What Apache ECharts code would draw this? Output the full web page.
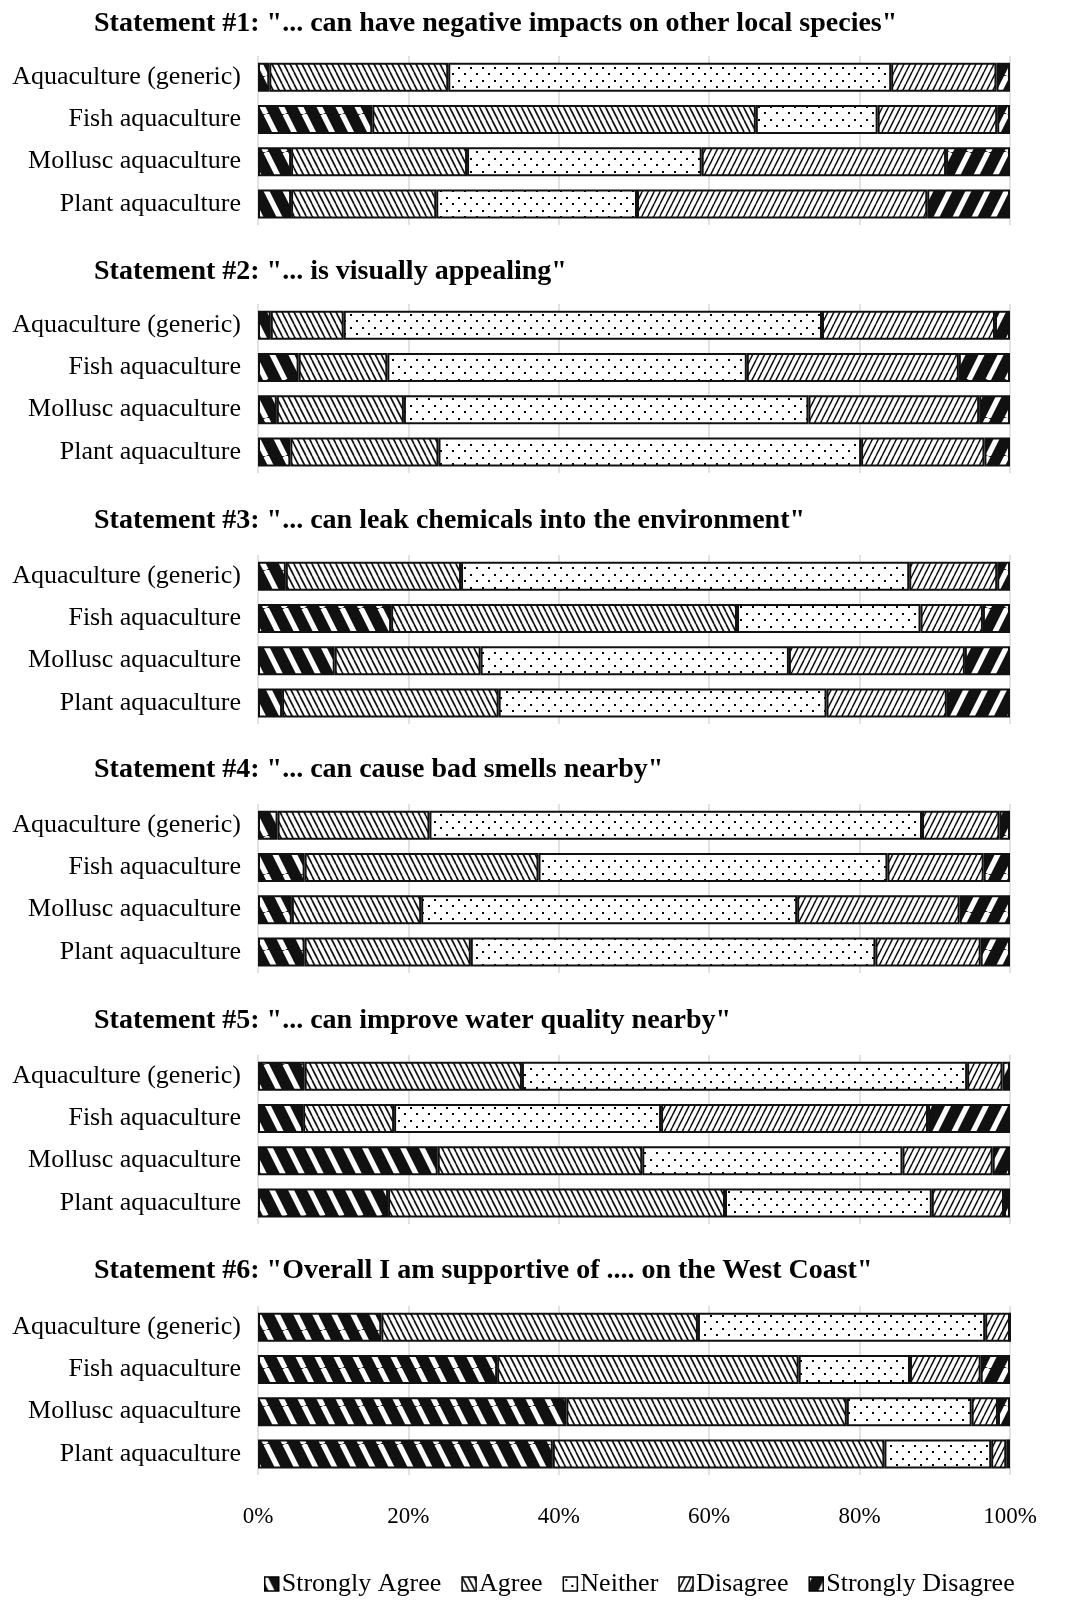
<!DOCTYPE html>
<html><head><meta charset="utf-8">
<script src="https://cdn.jsdelivr.net/npm/echarts@6/dist/echarts.min.js"></script>
<style>html,body{margin:0;padding:0;background:#fff}#c{width:1069px;height:1618px}</style>
</head><body><div id="c"></div>
<script>
// ---------- DATA ----------
const categories = ['Aquaculture (generic)', 'Fish aquaculture', 'Mollusc aquaculture', 'Plant aquaculture'];
const responses = ['Strongly Agree', 'Agree', 'Neither', 'Disagree', 'Strongly Disagree'];
const statementTitles = [
  'Statement #1: "... can have negative impacts on other local species"',
  'Statement #2: "... is visually appealing"',
  'Statement #3: "... can leak chemicals into the environment"',
  'Statement #4: "... can cause bad smells nearby"',
  'Statement #5: "... can improve water quality nearby"',
  'Statement #6: "Overall I am supportive of .... on the West Coast"'
];
const xTicks = [0, 20, 40, 60, 80, 100];
// rows = categories; columns = [Strongly Agree, Agree, Neither, Disagree, Strongly Disagree] (%)
const statement1 = [
  [1.5, 23.8, 58.9, 14.0, 1.8],
  [15.2, 51.0, 16.2, 15.9, 1.7],
  [4.4, 23.4, 31.2, 32.5, 8.5],
  [4.4, 19.3, 26.7, 38.6, 11.0]
];
const statement2 = [
  [1.7, 9.7, 63.6, 23.0, 2.0],
  [5.4, 11.8, 47.8, 28.2, 6.8],
  [2.5, 16.9, 53.8, 22.7, 4.1],
  [4.3, 19.7, 56.2, 16.4, 3.4]
];
const statement3 = [
  [3.7, 23.3, 59.6, 11.7, 1.7],
  [17.7, 46.0, 24.4, 8.3, 3.6],
  [10.2, 19.4, 41.0, 23.4, 6.0],
  [3.2, 28.8, 43.6, 16.0, 8.4]
];
const statement4 = [
  [2.6, 20.2, 65.5, 10.3, 1.4],
  [6.2, 31.1, 46.4, 12.8, 3.5],
  [4.5, 17.2, 50.0, 21.6, 6.7],
  [6.2, 22.1, 53.8, 14.0, 3.9]
];
const statement5 = [
  [6.2, 28.9, 59.2, 4.7, 1.0],
  [6.0, 12.1, 35.5, 35.5, 10.9],
  [23.9, 27.2, 34.6, 12.0, 2.3],
  [17.3, 44.8, 27.5, 9.6, 0.8]
];
const statement6 = [
  [16.4, 42.1, 38.2, 3.3, 0.0],
  [31.8, 40.1, 14.8, 9.4, 3.9],
  [41.0, 37.3, 16.6, 3.5, 1.6],
  [39.2, 44.1, 14.2, 2.0, 0.5]
];
const statements = [statement1, statement2, statement3, statement4, statement5, statement6];

// ---------- PATTERNS ----------
function stripeTile(P, H, lineW, fg, bg, dir) {
  const c = document.createElement('canvas');
  c.width = P; c.height = H;
  const g = c.getContext('2d');
  g.fillStyle = bg; g.fillRect(0, 0, P, H);
  g.strokeStyle = fg; g.lineWidth = lineW;
  for (let k = -1; k <= 1; k++) {
    const x0 = k * P;
    g.beginPath();
    if (dir === 'back') { g.moveTo(x0, 0); g.lineTo(x0 + P, H); }
    else { g.moveTo(x0, H); g.lineTo(x0 + P, 0); }
    g.stroke();
  }
  return { image: c, repeat: 'repeat' };
}
function dotTile() {
  const c = document.createElement('canvas');
  c.width = 12; c.height = 13;
  const g = c.getContext('2d');
  g.fillStyle = '#fff'; g.fillRect(0, 0, 12, 13);
  g.fillStyle = '#000';
  g.fillRect(2, 2, 2, 2);
  g.fillRect(8, 8, 2, 2);
  return { image: c, repeat: 'repeat' };
}
const patterns = [
  stripeTile(19, 38, 5.4, '#fff', '#111', 'back'),
  stripeTile(6, 12, 1.7, '#111', '#fff', 'back'),
  dotTile(),
  stripeTile(6, 12, 1.5, '#111', '#fff', 'fwd'),
  stripeTile(19, 38, 5.4, '#fff', '#111', 'fwd')
];

// ---------- LAYOUT ----------
const FONT = "'Liberation Serif', 'Times New Roman', serif";
const panelTops = [56, 304, 555, 804, 1055, 1306];
const titleTops = [10, 258, 507, 756, 1007, 1257];
const gridH = 169;

const option = {
  backgroundColor: '#fff',
  animation: false,
  title: statementTitles.map((t, i) => ({
    text: t, left: 94, top: titleTops[i], padding: 0,
    textStyle: { fontFamily: FONT, fontWeight: 'bold', fontSize: 28, color: '#000' }
  })),
  legend: {
    data: responses,
    left: 259, top: 1566,
    itemWidth: 14, itemHeight: 14, itemGap: 20,
    icon: 'rect',
    itemStyle: { borderColor: '#000', borderWidth: 1.5 },
    textStyle: { fontFamily: FONT, fontSize: 26, color: '#000', padding: [0, 0, 0, -2] },
    selectedMode: false
  },
  grid: panelTops.map(t => ({ left: 258, right: 59, top: t, height: gridH, containLabel: false })),
  xAxis: panelTops.map((t, i) => ({
    type: 'value', gridIndex: i, min: xTicks[0], max: xTicks[xTicks.length - 1], interval: 20,
    axisLine: { show: false }, axisTick: { show: false },
    splitLine: { show: true, lineStyle: { color: '#d9d9d9', width: 1.5 } },
    axisLabel: { show: i === 5, formatter: '{value}%', fontFamily: FONT, fontSize: 23, color: '#000', margin: 30 }
  })),
  yAxis: panelTops.map((t, i) => ({
    type: 'category', gridIndex: i, inverse: true, data: categories,
    axisLine: { show: false }, axisTick: { show: false }, splitLine: { show: false },
    axisLabel: { fontFamily: FONT, fontSize: 26, color: '#000', margin: 17 }
  })),
  series: []
};
statements.forEach((rows, i) => {
  responses.forEach((name, r) => {
    option.series.push({
      type: 'bar', name: name, xAxisIndex: i, yAxisIndex: i, stack: 'p' + i,
      barWidth: 29, silent: true,
      data: rows.map(row => row[r]),
      itemStyle: { color: patterns[r], borderColor: '#111', borderWidth: 2 }
    });
  });
});
const chart = echarts.init(document.getElementById('c'), null, { renderer: 'canvas' });
chart.setOption(option);
</script></body></html>
